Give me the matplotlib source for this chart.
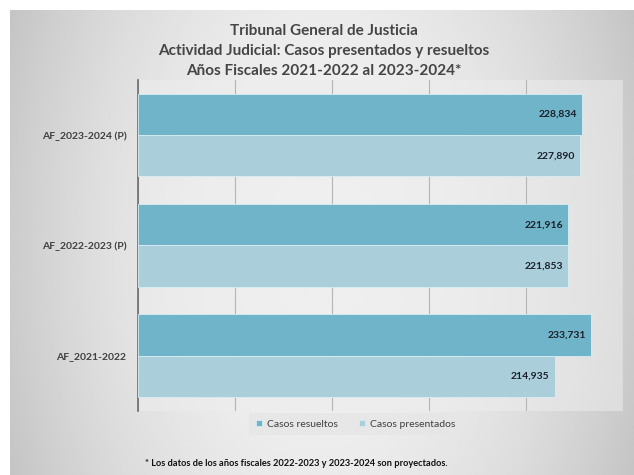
import matplotlib.pyplot as plt
import numpy as np

# data (bottom to top)
categories = ["AF_2021-2022", "AF_2022-2023 (P)", "AF_2023-2024 (P)"]
casos_resueltos = [233731, 221916, 228834]
casos_presentados = [214935, 221853, 227890]

title = ("Tribunal General de Justicia\n"
         "Actividad Judicial: Casos presentados y resueltos\n"
         "Años Fiscales 2021-2022 al 2023-2024*")
footnote = "* Los datos de los años fiscales 2022-2023 y 2023-2024 son proyectados."

plt.rcParams['font.family'] = ['Lato', 'DejaVu Sans']

fig = plt.figure(figsize=(6.34, 4.75), dpi=100)
fig.patch.set_facecolor("white")

# grey gradient background for the chart area
bg = fig.add_axes([0.016, 0.0, 0.984, 0.979])
xs = np.linspace(-1, 1, 300)
ys = np.linspace(-1, 1, 200)
X, Y = np.meshgrid(xs, ys)
grad = 0.95 - 0.15 * (X ** 2) - 0.03 * (Y ** 2)
bg.imshow(grad, cmap="gray", vmin=0, vmax=1, aspect="auto",
          extent=[0, 1, 0, 1])
bg.axis("off")

ax = fig.add_axes([0.217, 0.135, 0.765, 0.697])
ax.set_facecolor((0.93, 0.93, 0.93, 0.55))

y = np.arange(len(categories))
h = 0.375
dark = "#6fb4c8"
light = "#aacfdb"
b1 = ax.barh(y + h / 2, casos_resueltos, height=h, color=dark,
             edgecolor="#d9edf2", linewidth=0.6, label="Casos resueltos", zorder=3)
b2 = ax.barh(y - h / 2, casos_presentados, height=h, color=light,
             edgecolor="#d9edf2", linewidth=0.6, label="Casos presentados", zorder=3)

for bars, vals in [(b1, casos_resueltos), (b2, casos_presentados)]:
    for bar, v in zip(bars, vals):
        ax.text(v - 2500, bar.get_y() + bar.get_height() / 2, f"{v:,}",
                ha="right", va="center", fontsize=7.5, fontweight="bold",
                color="#1c1f2a", zorder=4)

ax.set_xlim(0, 250000)
ax.set_ylim(-0.5, 2.5)
ax.set_xticks(np.arange(0, 250001, 50000))
ax.set_xticklabels([])
ax.tick_params(axis="x", length=0)
ax.grid(axis="x", color="#b5b5b5", linewidth=0.8, zorder=0)
ax.set_yticks(y)
ax.set_yticklabels(categories, fontsize=7.5, fontweight="bold", color="#404040")
ax.tick_params(axis="y", length=0, pad=8)
for s in ["top", "right", "bottom"]:
    ax.spines[s].set_visible(False)
ax.spines["left"].set_color("#6e6e6e")
ax.spines["left"].set_linewidth(1.2)

fig.text(0.511, 0.95, title, ha="center", va="top", fontsize=11,
         fontweight="bold", color="#454545", linespacing=1.55)

leg = fig.legend(loc="center", bbox_to_anchor=(0.561, 0.107), ncol=2,
                 fontsize=7.5, frameon=True, handlelength=0.6, handleheight=0.6,
                 columnspacing=2.0, handletextpad=0.5, borderpad=0.6)
leg.get_frame().set_facecolor("#e6e6e6")
leg.get_frame().set_edgecolor("none")
for t in leg.get_texts():
    t.set_color("#404040")

fig.text(0.228, 0.025, footnote, ha="left", va="center", fontsize=6.7,
         fontweight="bold", color="#111111")

fig.savefig("out.png", dpi=100)
